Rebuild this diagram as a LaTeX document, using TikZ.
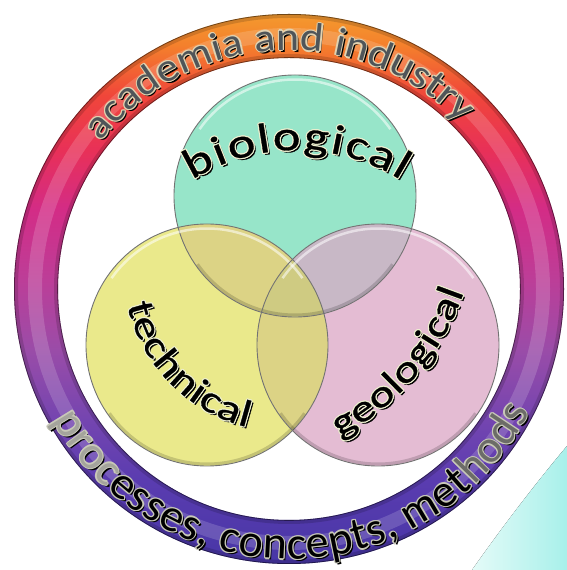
\documentclass[tikz,border=0pt]{standalone}
\usepackage{fontspec}
\setmainfont{Carlito}
\newfontfamily\widefont[FakeStretch=1.25, FakeBold=0.8]{Carlito}
\newfontfamily\ringfont[FakeStretch=1.1]{Carlito}
\newcommand{\labfontbio}{\widefont\fontsize{42}{42}\selectfont}
\newcommand{\labfontin}{\widefont\fontsize{38}{38}\selectfont}
\newcommand{\labfonttop}{\ringfont\fontsize{40}{40}\selectfont}
\newcommand{\labfontbot}{\fontsize{46}{46}\selectfont}
\usetikzlibrary{decorations.text}
\definecolor{ringA}{HTML}{4736A6}
\definecolor{ringB}{HTML}{5A3CB0}
\definecolor{ringC}{HTML}{7445B0}
\definecolor{ringD}{HTML}{9A4CA8}
\definecolor{ringE}{HTML}{BC3E98}
\definecolor{ringF}{HTML}{D32C86}
\definecolor{ringG}{HTML}{E83058}
\definecolor{ringH}{HTML}{F0463A}
\definecolor{ringI}{HTML}{F4802C}
\definecolor{ringJ}{HTML}{F49A2E}
\definecolor{cyanL}{HTML}{E4FBF8}
\definecolor{cyanR}{HTML}{A8F0EA}
\definecolor{gcol}{HTML}{97E5C9}
\definecolor{ycol}{HTML}{EAE98B}
\definecolor{pcol}{HTML}{E4BCD3}
\definecolor{gycol}{HTML}{C8E282}
\definecolor{gpcol}{HTML}{C8B8C6}
\definecolor{ypcol}{HTML}{DCD385}
\definecolor{gypcol}{HTML}{CFCB82}
\definecolor{topgray}{HTML}{4F5559}
\definecolor{topline}{HTML}{E2D2B0}
\definecolor{inline}{HTML}{EEF0D0}
\definecolor{botline}{HTML}{C8C8B8}
\definecolor{procgray}{HTML}{A4A49C}
\definecolor{hodsgray}{HTML}{6C6C68}
\pgfdeclareverticalshading{ringshade}{100bp}{color(0bp)=(ringA); color(25bp)=(ringA); color(32.6bp)=(ringB); color(38.1bp)=(ringC); color(44.5bp)=(ringD); color(50.8bp)=(ringE); color(57.2bp)=(ringF); color(62.6bp)=(ringG); color(67.6bp)=(ringH); color(72.2bp)=(ringI); color(75bp)=(ringJ); color(100bp)=(ringJ)}
% #1 centre, #2 radius, #3 start, #4 end, #5 font, #6 fill colour, #7 outline colour, #8 plain text, #9 main text with formats
\newcommand{\curvedlabel}[9]{%
  \path[shift={(#1)}, shift={(2,-2)}, opacity=0.45, decorate, decoration={text along path, text align=fit to path, text color=black, text={|#5|#8}}] (#3:#2) arc[start angle=#3, end angle=#4, radius=#2];
  \foreach \ddx/\ddy in {1.2/0,-1.2/0,0/1.2,0/-1.2,0.85/0.85,-0.85/0.85,0.85/-0.85,-0.85/-0.85}{%
    \path[shift={(#1)}, shift={(\ddx,\ddy)}, decorate, decoration={text along path, text align=fit to path, text color=#7, text={|#5|#8}}] (#3:#2) arc[start angle=#3, end angle=#4, radius=#2];
  }%
  \path[shift={(#1)}, decorate, decoration={text along path, text align=fit to path, text color=#6, text={#9}}] (#3:#2) arc[start angle=#3, end angle=#4, radius=#2];
}
\tikzset{
  circedge/.style={draw=black!55, line width=0.9},
  gloss/.style={draw=white, opacity=0.55, line width=2.5},
  lowshade/.style={draw=black, opacity=0.16, line width=3}
}
\begin{document}
\begin{tikzpicture}[x=1pt,y=1pt]
\useasboundingbox (0,0) rectangle (567,570);
\coordinate (O) at (289,281);
\coordinate (G) at (295,374);
\coordinate (Y) at (207,225);
\coordinate (P) at (378,225);
\coordinate (B) at (296.5,223);
\coordinate (T) at (287,302);
\coordinate (Q) at (217,363);
\coordinate (c1) at (472,0);
\coordinate (c2) at (567,124);
\coordinate (c3) at (567,0);
% cyan corner
\fill[left color=cyanL, right color=cyanR] (c1) .. controls (500,40) and (535,86) .. (c2) -- (c3) -- cycle;
% ring
\shade[shading=ringshade, even odd rule] (O) circle[radius=275] (O) circle[radius=231];
\draw[white, opacity=0.16, line width=14] (O) circle[radius=254];
\draw[black, opacity=0.15, line width=4] (O) circle[radius=273] (O) circle[radius=233];
\draw[black, opacity=0.45, line width=0.8] (O) circle[radius=274.6] (O) circle[radius=231.4];
% ring texts
\curvedlabel{O}{239}{142}{44}{\labfonttop}{topgray}{topline}{academia and industry}{|\labfonttop|academia and industry}
\curvedlabel{O}{270}{209}{333}{\labfontbot}{black}{botline}{processes, concepts, methods}{|\labfontbot\color{procgray}|proc|\labfontbot\color{black}|esses, concepts, met|\labfontbot\color{hodsgray}|hods}
% circles
\fill[gcol] (G) circle[radius=121];
\fill[ycol] (Y) circle[radius=121];
\fill[pcol] (P) circle[radius=121];
\begin{scope}
  \clip (G) circle[radius=121];
  \fill[gycol] (Y) circle[radius=121];
  \fill[gpcol] (P) circle[radius=121];
  \clip (Y) circle[radius=121];
  \fill[gypcol] (P) circle[radius=121];
\end{scope}
\begin{scope}
  \clip (Y) circle[radius=121];
  \fill[ypcol, even odd rule] (P) circle[radius=121] (G) circle[radius=121];
\end{scope}
\begin{scope}
  \clip (Y) circle[radius=121];
  \clip (P) circle[radius=121];
  \clip (G) circle[radius=121];
  \fill[gypcol] (G) circle[radius=121];
\end{scope}
\foreach \c in {G,Y,P}{
  \draw[lowshade] ([shift={(215:119)}]\c) arc[start angle=215, end angle=325, radius=119];
  \draw[gloss] ([shift={(145:116.5)}]\c) arc[start angle=145, end angle=35, radius=116.5];
  \draw[circedge] (\c) circle[radius=121];
}
% circle texts
\curvedlabel{B}{197}{122}{58}{\labfontbio}{black}{inline}{biological}{|\labfontbio|biological}
\curvedlabel{T}{164}{193}{256}{\labfontin}{black}{inline}{technical}{|\labfontin|technical}
\curvedlabel{Q}{261}{298}{341}{\labfontin}{black}{inline}{geological}{|\labfontin|geological}
\end{tikzpicture}
\end{document}
